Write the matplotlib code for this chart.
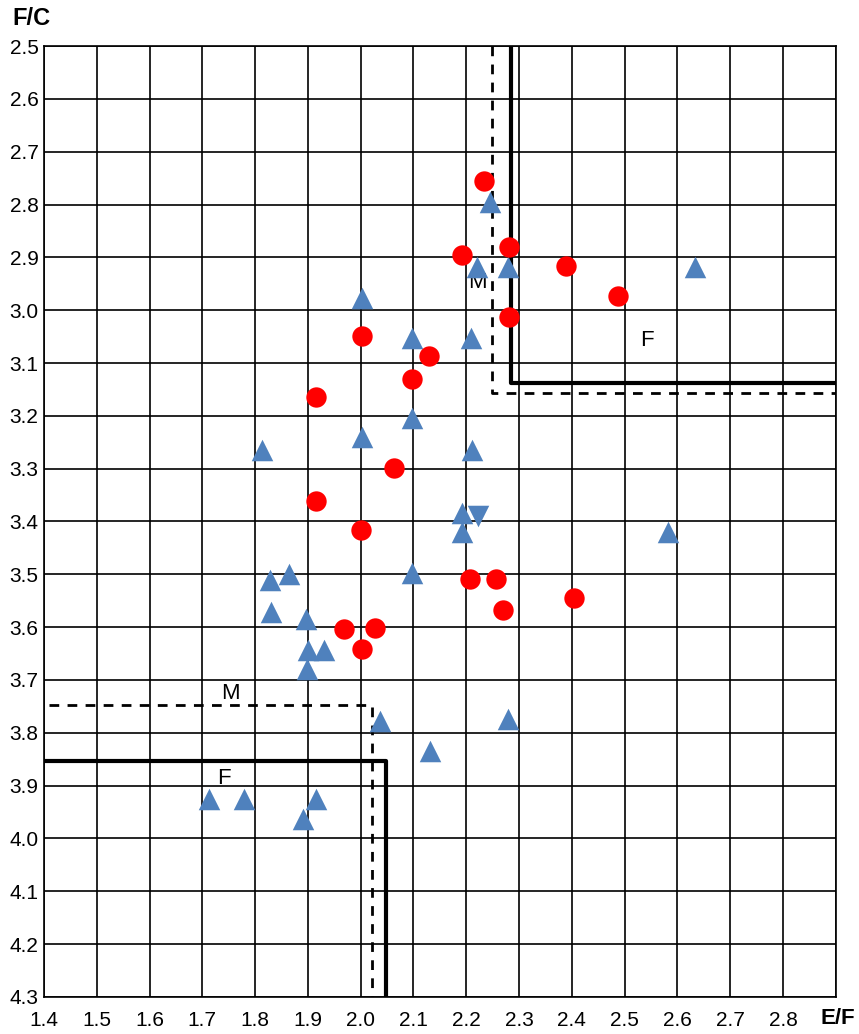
import numpy as np
import matplotlib.pyplot as plt

# red circles (E/F, F/C)
red_x = [2.233, 2.192, 2.280, 2.389, 2.487, 2.281, 2.130, 2.098, 2.002, 1.915,
         2.063, 1.915, 2.001, 2.207, 2.257, 2.269, 1.968, 2.027, 2.002, 2.404]
red_y = [2.756, 2.896, 2.880, 2.916, 2.973, 3.013, 3.087, 3.131, 3.049, 3.165,
         3.299, 3.362, 3.417, 3.508, 3.508, 3.568, 3.603, 3.602, 3.641, 3.544]

# blue triangles
blue_x = [2.245, 2.220, 2.279, 2.633, 2.097, 2.209, 2.002, 2.098, 2.002, 1.813,
          2.211, 2.192, 2.192, 2.098, 1.829, 1.865, 1.831, 1.897, 1.900, 1.931,
          1.899, 2.582, 2.036, 2.131, 2.279, 1.713, 1.779, 1.915, 1.890]
blue_y = [2.795, 2.918, 2.918, 2.918, 3.052, 3.052, 2.977, 3.204, 3.240, 3.264,
          3.265, 3.383, 3.420, 3.497, 3.511, 3.499, 3.571, 3.584, 3.644, 3.644,
          3.680, 3.419, 3.777, 3.835, 3.773, 3.926, 3.926, 3.926, 3.963]
# one downward triangle
down_x = [2.222]
down_y = [3.389]

# boundary lines
f_top = (2.285, 3.137)    # solid, upper right
m_top = (2.248, 3.157)    # dashed, upper right
m_bot = (2.022, 3.747)    # dashed, lower left
f_bot = (2.048, 3.854)    # solid, lower left

xticks = np.round(np.arange(1.4, 2.85, 0.1), 1)
yticks = np.round(np.arange(2.5, 4.35, 0.1), 1)

lab_font = ['Liberation Sans Narrow', 'Liberation Sans', 'DejaVu Sans']

fig = plt.figure(figsize=(8.59, 10.34), dpi=100)
ax = fig.add_axes([0.0512, 0.0358, 0.9218, 0.9197])

ax.set_xlim(1.4, 2.9)
ax.set_ylim(4.3, 2.5)
ax.set_xticks(np.round(np.arange(1.4, 2.95, 0.1), 1))
ax.set_yticks(yticks)
ax.set_xticklabels([f'{v:.1f}' for v in xticks] + [''], fontsize=15, family=lab_font)
ax.set_yticklabels([f'{v:.1f}' for v in yticks], fontsize=15, family=lab_font)
ax.tick_params(axis='x', length=0, pad=10)
ax.tick_params(axis='y', length=0, pad=4)
ax.grid(True, color='black', linewidth=1.2)
ax.set_axisbelow(True)
for s in ax.spines.values():
    s.set_linewidth(1.2)

# upper right boundaries
ax.plot([f_top[0], f_top[0], 2.9], [2.5, f_top[1], f_top[1]], color='black', lw=3, zorder=3)
ax.plot([m_top[0], m_top[0], 2.9], [2.5, m_top[1], m_top[1]], color='black', lw=2,
        ls=(0, (3.5, 3)), zorder=3)
# lower left boundaries
ax.plot([1.4, f_bot[0], f_bot[0]], [f_bot[1], f_bot[1], 4.3], color='black', lw=3, zorder=3)
ax.plot([1.41, m_bot[0], m_bot[0]], [m_bot[1], m_bot[1], 4.3], color='black', lw=2,
        ls=(0, (3.5, 3)), zorder=3)

ax.text(2.221, 2.948, 'M', fontsize=16, ha='center', va='center', family=lab_font, zorder=3)
ax.text(2.543, 3.057, 'F', fontsize=16, ha='center', va='center', family=lab_font, zorder=3)
ax.text(1.754, 3.726, 'M', fontsize=16, ha='center', va='center', family=lab_font, zorder=3)
ax.text(1.741, 3.887, 'F', fontsize=16, ha='center', va='center', family=lab_font, zorder=3)

ax.scatter(blue_x, blue_y, marker='^', s=240, color='#4F81BD', linewidths=0, zorder=4)
ax.scatter(down_x, down_y, marker='v', s=240, color='#4F81BD', linewidths=0, zorder=4)
ax.scatter(red_x, red_y, marker='o', s=215, color='#FF0000', linewidths=0, zorder=5)

fig.text(0.037, 0.982, 'F/C', fontsize=17, fontweight='bold', ha='center', va='center',
         family=['Liberation Sans', 'DejaVu Sans'])
fig.text(0.996, 0.015, 'E/F', fontsize=16, fontweight='bold', ha='right', va='center',
         family=['Liberation Sans', 'DejaVu Sans'])

fig.savefig('out.png', dpi=100, facecolor='white')
